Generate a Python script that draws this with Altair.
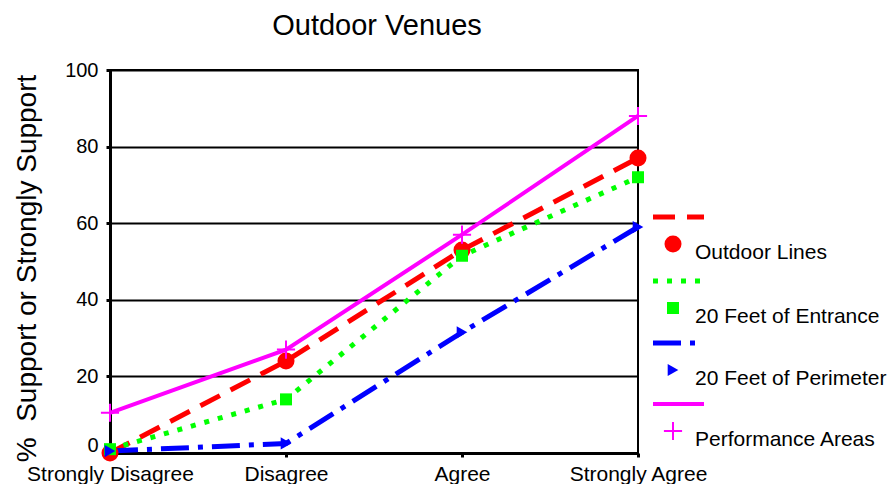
import altair as alt
import pandas as pd

# ---- data ----
chart_title = "Outdoor Venues"
levels = ["Strongly Disagree", "Disagree", "Agree", "Strongly Agree"]
series_names = ["Outdoor Lines", "20 Feet of Entrance", "20 Feet of Perimeter", "Performance Areas"]
outdoor_lines = [0, 24, 53, 77]
feet_entrance = [1, 14, 51.5, 72]
feet_perimeter = [0.5, 2.5, 31.5, 59]
performance_areas = [10.5, 27, 57, 88]
y_ticks = [0, 20, 40, 60, 80, 100]

series_values = [outdoor_lines, feet_entrance, feet_perimeter, performance_areas]

# ---- styles ----
FONT = "Liberation Sans"
colors = ["#FF0000", "#00FF00", "#0000FF", "#FF00FF"]
dashes = [[22, 12], [5, 9], [28, 9, 5, 9], None]
widths = [5, 5, 5, 4]
shapes = ["circle", "square", "triangle-right", "M-1,0H1M0,-1V1"]
sizes = [290, 144, 150, 330]
filled = [True, True, True, False]

W, H = 528, 383

frames = []
for name, vals in zip(series_names, series_values):
    frames.append(pd.DataFrame({"series": name, "level": levels, "value": vals}))
df = pd.concat(frames, ignore_index=True)

x_enc = alt.X(
    "level:N",
    sort=levels,
    scale=alt.Scale(type="point", padding=0, domain=levels),
    axis=alt.Axis(
        title=None, labelAngle=0, labelFontSize=21, labelFont=FONT, labelColor="black",
        domainColor="black", domainWidth=3, tickColor="black", tickSize=4, tickWidth=3,
        labelPadding=6, grid=False,
    ),
)
y_enc = alt.Y(
    "value:Q",
    scale=alt.Scale(domain=[0, 100], nice=False, zero=False),
    axis=alt.Axis(
        values=y_ticks, title="%\u00a0\u00a0Support or Strongly Support",
        titleFontSize=28, titleFont=FONT, titleFontWeight="normal", titleColor="black",
        titleAngle=270, titleX=-75, titleY=198, titleAlign="center", titleBaseline="alphabetic",
        labelFontSize=20, labelFont=FONT, labelColor="black", labelPadding=8,
        labelOffset={"condition": {"test": "datum.value == 0", "value": -8}, "value": 0},
        domainColor="black", domainWidth=3, tickColor="black", tickSize=4, tickWidth=3,
        grid=True, gridColor="black", gridWidth=2,
    ),
)

layers = []
for i, name in enumerate(series_names):
    sub = df[df["series"] == name]
    line_kwargs = dict(color=colors[i], strokeWidth=widths[i], strokeCap="butt")
    if dashes[i] is not None:
        line_kwargs["strokeDash"] = dashes[i]
    layers.append(alt.Chart(sub).mark_line(**line_kwargs).encode(x=x_enc, y=y_enc))
for i, name in enumerate(series_names):
    sub = df[df["series"] == name]
    pkw = dict(shape=shapes[i], size=sizes[i], filled=filled[i], opacity=1)
    if filled[i]:
        pkw.update(fill=colors[i], color=colors[i], strokeWidth=0)
    else:
        pkw.update(stroke=colors[i], color=colors[i], strokeWidth=2)
    layers.append(alt.Chart(sub).mark_point(**pkw).encode(x=x_enc, y=y_enc))

# ---- legend (custom, two rows per entry as in the reference) ----
leg_line_y = [147, 211, 273, 334]
for i, name in enumerate(series_names):
    ldf = pd.DataFrame({"series": [name]})
    rkw = dict(color=colors[i], strokeWidth=widths[i], strokeCap="butt")
    if dashes[i] is not None:
        rkw["strokeDash"] = dashes[i]
    layers.append(alt.Chart(ldf).mark_rule(**rkw).encode(
        x=alt.value(543), x2=alt.value(594), y=alt.value(leg_line_y[i])))
    pkw = dict(shape=shapes[i], size=sizes[i], filled=filled[i], opacity=1)
    if filled[i]:
        pkw.update(fill=colors[i], color=colors[i], strokeWidth=0)
    else:
        pkw.update(stroke=colors[i], color=colors[i], strokeWidth=2)
    layers.append(alt.Chart(ldf).mark_point(**pkw).encode(
        x=alt.value(563), y=alt.value(leg_line_y[i] + 27)))
    layers.append(alt.Chart(ldf).mark_text(
        align="left", baseline="middle", fontSize=21, font=FONT, color="black"
    ).encode(x=alt.value(585), y=alt.value(leg_line_y[i] + 36), text="series:N"))

# ---- chart title (placed above the plot) ----
tdf = pd.DataFrame({"title": [chart_title]})
layers.append(alt.Chart(tdf).mark_text(
    align="center", baseline="alphabetic", fontSize=29, font=FONT, color="black"
).encode(x=alt.value(267), y=alt.value(-35), text="title:N"))

chart = alt.layer(*layers).properties(
    width=W, height=H,
    autosize=alt.AutoSizeParams(type="none"),
    padding={"left": 102, "top": 62, "right": 249, "bottom": 31},
).configure(font=FONT).configure_view(stroke="black", strokeWidth=2)

chart.save("out.html", embed_options={"renderer": "svg", "actions": False})
